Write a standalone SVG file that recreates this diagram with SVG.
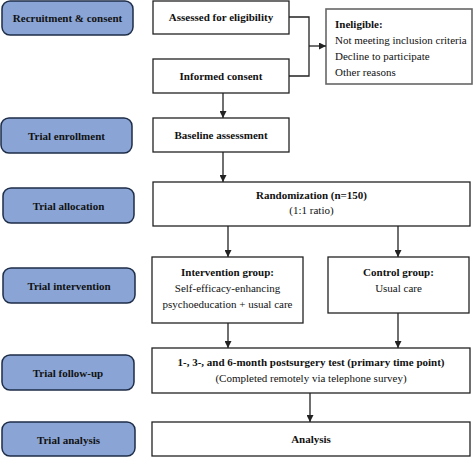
<svg xmlns="http://www.w3.org/2000/svg" width="474" height="457" viewBox="0 0 474 457" font-family="'Liberation Serif', 'Times New Roman', Times, serif">
<style>
.stage{fill:#8aa5d5;stroke:#1e2d48;stroke-width:1.5}
.box{fill:#fff;stroke:#222;stroke-width:1.3}
.gbox{fill:#fff;stroke:#666;stroke-width:1.6}
text{font-family:'Liberation Serif', 'Times New Roman', Times, serif;font-size:11px;fill:#111}
.b{font-weight:bold}
.c{text-anchor:middle}
.ln{fill:none;stroke:#222;stroke-width:1.3}
</style>
<defs>
<marker id="ah" viewBox="0 0 10 10" refX="10" refY="5" markerWidth="7" markerHeight="7" markerUnits="userSpaceOnUse" orient="auto">
<path d="M0,0 L10,5 L0,10 z" fill="#222"/>
</marker>
</defs>
<rect width="474" height="457" fill="#fff"/>
<g id="stage-recruitment"><rect class="stage" x="2" y="1" width="131" height="34" rx="8"/><text class="b c" x="67.5" y="22">Recruitment &amp; consent</text></g>
<g id="stage-enrollment"><rect class="stage" x="1" y="118" width="131" height="35" rx="8"/><text class="b c" x="66.5" y="140">Trial enrollment</text></g>
<g id="stage-allocation"><rect class="stage" x="3" y="188" width="131" height="35" rx="8"/><text class="b c" x="68.5" y="210">Trial allocation</text></g>
<g id="stage-intervention"><rect class="stage" x="3" y="268" width="132" height="35" rx="8"/><text class="b c" x="69" y="290">Trial intervention</text></g>
<g id="stage-followup"><rect class="stage" x="2" y="355" width="132" height="35" rx="8"/><text class="b c" x="68" y="377">Trial follow-up</text></g>
<g id="stage-analysis"><rect class="stage" x="2" y="422" width="133" height="34" rx="8"/><text class="b c" x="68.5" y="444">Trial analysis</text></g>

<g id="assessed"><rect class="box" x="153" y="1" width="136" height="33"/><text class="b c" x="221" y="21">Assessed for eligibility</text></g>
<g id="consent"><rect class="box" x="153" y="59" width="136" height="34"/><text class="b c" x="221" y="80">Informed consent</text></g>
<g id="ineligible"><rect class="gbox" x="326" y="9" width="146" height="75"/>
<text class="b" x="335" y="28">Ineligible:</text>
<text x="335" y="44">Not meeting inclusion criteria</text>
<text x="335" y="60">Decline to participate</text>
<text x="335" y="76">Other reasons</text></g>
<g id="baseline"><rect class="box" x="153" y="118" width="136" height="34"/><text class="b c" x="221" y="139">Baseline assessment</text></g>
<g id="randomization"><rect class="box" x="153" y="182" width="317" height="44"/><text class="b c" x="311.5" y="199">Randomization (n=150)</text><text class="c" x="311.5" y="214">(1:1 ratio)</text></g>
<g id="intervention"><rect class="box" x="152" y="257" width="151" height="66"/><text class="b c" x="227.5" y="276">Intervention group:</text><text class="c" x="227.5" y="292">Self-efficacy-enhancing</text><text class="c" x="227.5" y="308">psychoeducation + usual care</text></g>
<g id="control"><rect class="box" x="328" y="257" width="141" height="56"/><text class="b c" x="398.5" y="276">Control group:</text><text class="c" x="398.5" y="292">Usual care</text></g>
<g id="followup"><rect class="box" x="152" y="348" width="318" height="45"/><text class="b c" x="311" y="366">1-, 3-, and 6-month postsurgery test (primary time point)</text><text class="c" x="311" y="382">(Completed remotely via telephone survey)</text></g>
<g id="analysis"><rect class="box" x="152" y="422" width="318" height="34"/><text class="b c" x="311" y="443">Analysis</text></g>

<g id="connectors">
<path class="ln" d="M289,17 H309 V76 H289"/>
<path class="ln" d="M309,46 H326" marker-end="url(#ah)"/>
<path class="ln" d="M223,93 V118" marker-end="url(#ah)"/>
<path class="ln" d="M223,152 V182" marker-end="url(#ah)"/>
<path class="ln" d="M228,226 V257" marker-end="url(#ah)"/>
<path class="ln" d="M398,226 V257" marker-end="url(#ah)"/>
<path class="ln" d="M228,323 V348" marker-end="url(#ah)"/>
<path class="ln" d="M398,313 V348" marker-end="url(#ah)"/>
<path class="ln" d="M310,393 V422" marker-end="url(#ah)"/>
</g>
</svg>
